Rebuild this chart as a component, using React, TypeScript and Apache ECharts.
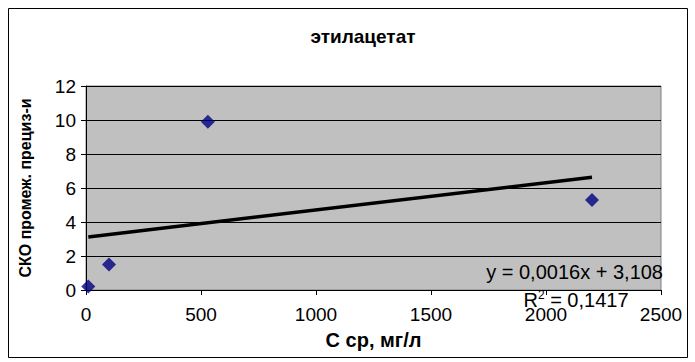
import React, { useEffect, useRef } from "react";
import * as echarts from "echarts";

const xValues = [10, 100, 530, 2200];
const yValues = [0.2, 1.5, 9.9, 5.3];
const trendSlope = 0.0016;
const trendIntercept = 3.108;
const trendX = [10, 2200];
const titleText = "этилацетат";
const xName = "С ср, мг/л";
const yName = "СКО промеж. прециз-и";
const eqText = "y = 0,0016x + 3,108";
const r2Value = "0,1417";

export default function App() {
  const ref = useRef<HTMLDivElement>(null);
  useEffect(() => {
    if (!ref.current) return;
    const chart = echarts.init(ref.current, null, { renderer: "svg" });
    const font = "Arial, 'Liberation Sans', sans-serif";
    const points = xValues.map((x, i) => [x, yValues[i]]);
    const trend = trendX.map((x) => [x, trendSlope * x + trendIntercept]);
    chart.setOption({
      animation: false,
      backgroundColor: "#ffffff",
      title: {
        text: titleText,
        left: 358,
        top: 22,
        textAlign: "center",
        textStyle: { fontFamily: font, fontSize: 19, fontWeight: "bold", color: "#000" },
      },
      grid: {
        left: 86,
        top: 86,
        width: 575,
        height: 204,
        show: true,
        backgroundColor: "#c0c0c0",
        borderColor: "#808080",
        borderWidth: 1,
      },
      xAxis: {
        type: "value",
        min: 0,
        max: 2500,
        interval: 500,
        name: xName,
        nameLocation: "middle",
        nameGap: 40,
        nameTextStyle: { fontFamily: font, fontSize: 20, fontWeight: "bold", color: "#000" },
        axisLine: { show: true, onZero: false, lineStyle: { color: "#000", width: 1 } },
        axisTick: { show: true, length: 5, lineStyle: { color: "#000" } },
        axisLabel: {
          fontFamily: font,
          fontSize: 19,
          color: "#000",
          margin: 15,
          formatter: (v: number) => String(v),
        },
        splitLine: { show: false },
      },
      yAxis: {
        type: "value",
        min: 0,
        max: 12,
        interval: 2,
        name: yName,
        nameLocation: "middle",
        nameGap: 53,
        nameTextStyle: { fontFamily: font, fontSize: 16, fontWeight: "bold", color: "#000" },
        axisLine: { show: true, onZero: false, lineStyle: { color: "#000", width: 1 } },
        axisTick: { show: true, length: 5, lineStyle: { color: "#000" } },
        axisLabel: {
          fontFamily: font,
          fontSize: 19,
          color: "#000",
          margin: 10,
          formatter: (v: number) => String(v),
        },
        splitLine: { show: true, lineStyle: { color: "#000", width: 1 } },
      },
      series: [
        {
          type: "line",
          data: trend,
          symbol: "none",
          lineStyle: { color: "#000", width: 3.5 },
          z: 2,
        },
        {
          type: "scatter",
          data: points,
          symbol: "diamond",
          symbolSize: 14,
          itemStyle: { color: "#000080" },
          z: 3,
        },
      ],
      graphic: [
        {
          type: "rect",
          shape: { x: 8.5, y: 8.5, width: 679, height: 349 },
          style: { fill: "none", stroke: "#000", lineWidth: 1 },
          silent: true,
        },
        {
          type: "text",
          x: 663,
          y: 272,
          style: {
            text: eqText,
            fontFamily: font,
            fontSize: 20,
            fill: "#000",
            align: "right",
            verticalAlign: "middle",
          },
          z: 10,
        },
        {
          type: "text",
          x: 576,
          y: 300,
          style: {
            text: "{b|R}{s|2}{b| = " + r2Value + "}",
            fontFamily: font,
            fill: "#000",
            align: "center",
            verticalAlign: "middle",
            rich: {
              b: { fontFamily: font, fontSize: 20, color: "#000" },
              s: { fontFamily: font, fontSize: 12, verticalAlign: "top", color: "#000", padding: [0, 0, 10, 0] },
            },
          },
          z: 10,
        },
      ],
    });
    return () => chart.dispose();
  }, []);
  return (
    <div
      ref={ref}
      style={{ position: "fixed", left: 0, top: 0, width: 695, height: 362 }}
    />
  );
}
